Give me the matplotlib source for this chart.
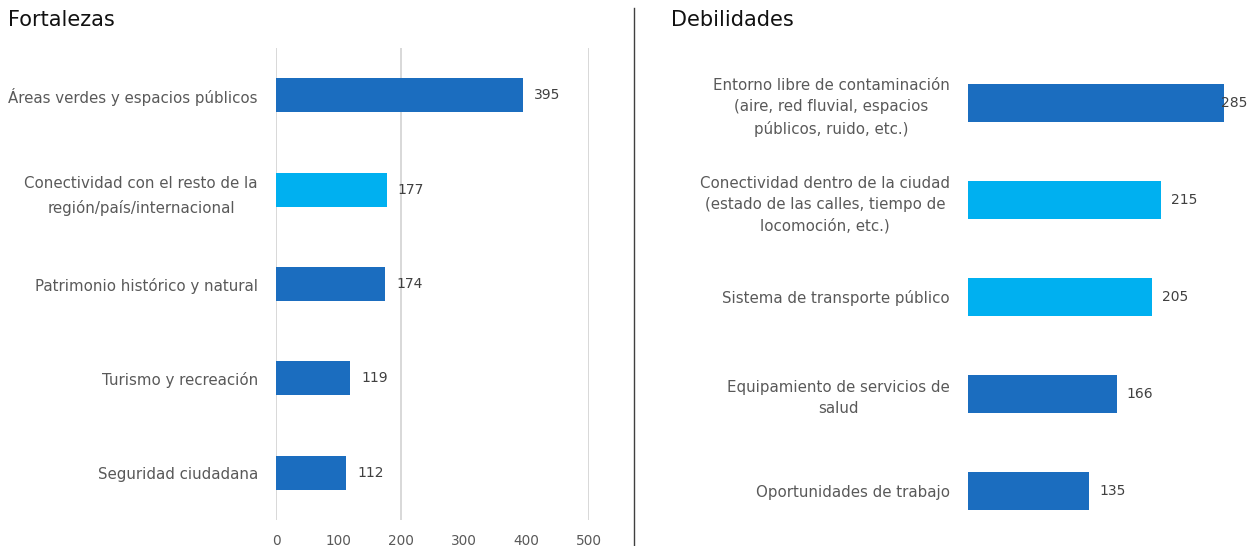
import matplotlib.pyplot as plt
from matplotlib.lines import Line2D

# Fortalezas
fort_labels = ["Áreas verdes y espacios públicos",
               "Conectividad con el resto de la\nregión/país/internacional",
               "Patrimonio histórico y natural",
               "Turismo y recreación",
               "Seguridad ciudadana"]
fort_values = [395, 177, 174, 119, 112]

# Debilidades
deb_labels = ["Entorno libre de contaminación\n(aire, red fluvial, espacios\npúblicos, ruido, etc.)",
              "Conectividad dentro de la ciudad\n(estado de las calles, tiempo de\nlocomoción, etc.)",
              "Sistema de transporte público",
              "Equipamiento de servicios de\nsalud",
              "Oportunidades de trabajo"]
deb_values = [285, 215, 205, 166, 135]

oscuro = "#1B6DBF"
claro = "#00B0F0"
fort_colors = [oscuro, claro, oscuro, oscuro, oscuro]
deb_colors = [oscuro, claro, claro, oscuro, oscuro]

gris = "#595959"

fig = plt.figure(figsize=(12.51, 5.46), dpi=100)

# panel izquierdo
ax1 = fig.add_axes([0.2206, 0.0476, 0.2502, 0.8644])
pos = range(len(fort_values))
ax1.barh(pos, fort_values, height=0.36, color=fort_colors)
ax1.set_xlim(0, 500)
ax1.set_ylim(len(fort_values) - 0.5, -0.5)
ax1.set_xticks([0, 100, 200, 300, 400, 500])
ax1.set_yticks(list(pos))
ax1.set_yticklabels(fort_labels, fontsize=10.8, color=gris, linespacing=1.75)
for t in ax1.get_yticklabels():
    t.set_multialignment("center")
ax1.tick_params(axis="y", length=0, pad=13)
ax1.tick_params(axis="x", length=0, pad=10, labelsize=9.8, labelcolor=gris)
for s in ax1.spines.values():
    s.set_visible(False)
for gx in [0, 200, 500]:
    ax1.axvline(gx, color="#D6D6D6", lw=1.3, zorder=0)
for i, v in enumerate(fort_values):
    ax1.annotate(str(v), (v, i), xytext=(8, 0), textcoords="offset points",
                 va="center", ha="left", fontsize=10, color="#404040")

# panel derecho
ax2 = fig.add_axes([0.7738, 0.0119, 0.2154, 0.8883])
pos2 = range(len(deb_values))
ax2.barh(pos2, deb_values, height=0.39, color=deb_colors)
ax2.set_xlim(0, 300)
ax2.set_ylim(len(deb_values) - 0.5, -0.5)
ax2.set_xticks([])
ax2.set_yticks(list(pos2))
ax2.set_yticklabels(deb_labels, fontsize=10.8, color=gris, linespacing=1.5)
for t in ax2.get_yticklabels():
    t.set_multialignment("center")
ax2.tick_params(axis="y", length=0, pad=13)
for s in ax2.spines.values():
    s.set_visible(False)
for i, v in enumerate(deb_values):
    # la etiqueta se monta sobre la barra cuando no cabe
    dx = -2 if v > 0.9 * 300 else 7
    ax2.annotate(str(v), (v, i), xytext=(dx, 0), textcoords="offset points",
                 va="center", ha="left", fontsize=10, color="#404040")

fig.text(8 / 1251, 1 - 20 / 546, "Fortalezas", fontsize=15, va="center", ha="left", color="#111111")
fig.text(671 / 1251, 1 - 20 / 546, "Debilidades", fontsize=15, va="center", ha="left", color="#111111")

fig.add_artist(Line2D([634 / 1251, 634 / 1251], [0, 1 - 8 / 546], color="#404040", lw=1))

fig.savefig("out.png", dpi=100)
